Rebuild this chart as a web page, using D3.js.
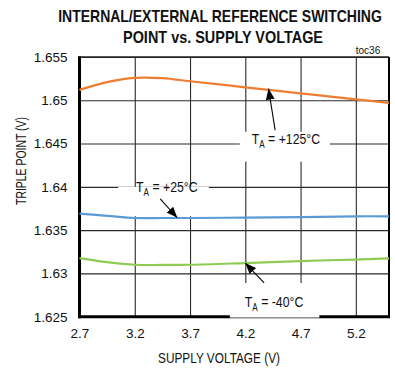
<!DOCTYPE html>
<html><head><meta charset="utf-8">
<script src="https://cdn.jsdelivr.net/npm/d3@7"></script>
<style>
body{margin:0;background:#fff;}
svg{display:block;}
text{font-family:'Liberation Sans Narrow','Arial Narrow','Liberation Sans',Arial,sans-serif;fill:#111;}
</style></head>
<body><svg id="c" width="395" height="371"></svg>
<script>
const voltages = [2.7, 2.95, 3.2, 3.45, 3.7, 4.2, 4.7, 5.2, 5.5];
const t125 = [1.6512, 1.6521, 1.65258, 1.65255, 1.6522, 1.6515, 1.6508, 1.6501, 1.6497];
const t25  = [1.6369, 1.63665, 1.6364, 1.6364, 1.6364, 1.63645, 1.6365, 1.6366, 1.6366];
const tm40 = [1.63177, 1.6313, 1.6310, 1.63098, 1.6310, 1.6312, 1.63143, 1.6316, 1.63173];
const xTicks = [2.7, 3.2, 3.7, 4.2, 4.7, 5.2];
const yTicks = [1.625, 1.63, 1.635, 1.64, 1.645, 1.65, 1.655];
const yTickLabels = ["1.625", "1.63", "1.635", "1.64", "1.645", "1.65", "1.655"];
const seriesNames = ["+125°C", "+25°C", "-40°C"];
const seriesColors = ["#EE7D31", "#5B9BD5", "#8FCB52"];

const svg = d3.select("#c");
const L = 79.5, R = 389, T = 57, B = 316.7;
const x = d3.scaleLinear().domain([2.7, 5.5]).range([L, R]);
const y = d3.scaleLinear().domain([1.625, 1.655]).range([B, T]);

// text squeezed horizontally to a target width (condensed look)
function fitText(cx, cy, str, size, width, bold, rotate) {
  const g = svg.append("g");
  const t = g.append("text").attr("text-anchor", "middle").attr("font-size", size)
    .attr("font-weight", bold ? "bold" : null).text(str);
  const w = t.node().getComputedTextLength();
  const s = width / w;
  g.attr("transform", `translate(${cx},${cy})` + (rotate ? " rotate(-90)" : "") + ` scale(${s},1)`);
  return g;
}

// title
fitText(220, 22, "INTERNAL/EXTERNAL REFERENCE SWITCHING", 16.5, 324, true);
fitText(223, 43, "POINT vs.  SUPPLY VOLTAGE", 16.5, 200, true);
svg.append("text").attr("x", 368).attr("y", 54).attr("text-anchor", "middle")
  .attr("font-size", 10).text("toc36");

// grid via axes
const gx = svg.append("g").attr("transform", `translate(0,${B})`)
  .call(d3.axisBottom(x).tickValues(xTicks).tickSize(-(B - T)).tickSizeOuter(0).tickPadding(12).tickFormat(d3.format(".1f")));
const gy = svg.append("g").attr("transform", `translate(${L},0)`)
  .call(d3.axisLeft(y).tickValues(yTicks).tickSize(-(R - L)).tickSizeOuter(0).tickPadding(12)
    .tickFormat((d, i) => yTickLabels[i]));
[gx, gy].forEach(g => {
  g.select(".domain").remove();
  g.selectAll("line").attr("stroke", "#2a2a2a").attr("stroke-width", 1.1);
  g.selectAll("text").attr("font-size", 13.5).attr("fill", "#111")
    .style("font-family", "'Liberation Sans Narrow','Arial Narrow','Liberation Sans',Arial,sans-serif");
});

// frame
svg.append("line").attr("x1", L).attr("x2", R).attr("y1", T).attr("y2", T).attr("stroke", "#222").attr("stroke-width", 1.5);
svg.append("line").attr("x1", R).attr("x2", R).attr("y1", T).attr("y2", B).attr("stroke", "#000").attr("stroke-width", 2);
svg.append("line").attr("x1", L).attr("x2", L).attr("y1", T - 0.7).attr("y2", B + 1.5).attr("stroke", "#000").attr("stroke-width", 3);
svg.append("line").attr("x1", L - 1.5).attr("x2", R + 1).attr("y1", B).attr("y2", B).attr("stroke", "#000").attr("stroke-width", 3);

// axis titles
fitText(219, 363, "SUPPLY VOLTAGE (V)", 15, 122, false);
fitText(26, 161, "TRIPLE POINT (V)", 14.5, 88, false, true);

// annotations (data coordinates)
const notes = [
  {name: seriesNames[0], cx: 4.567, cy: 1.6449, box: [4.15, 4.965, 1.64637, 1.64291], from: [4.47, 1.64654], to: [4.41, 1.65135]},
  {name: seriesNames[1], cx: 3.49, cy: 1.63935, box: [3.05, 3.87, 1.64, 1.63661], from: [3.43, 1.6386], to: [3.585, 1.63643]},
  {name: seriesNames[2], cx: 4.46, cy: 1.62612, box: [4.06, 4.87, 1.6289, 1.6249], from: [4.37, 1.6289], to: [4.2, 1.63119]}
];
notes.forEach(n => {
  svg.append("rect").attr("x", x(n.box[0])).attr("y", y(n.box[2]))
    .attr("width", x(n.box[1]) - x(n.box[0])).attr("height", y(n.box[3]) - y(n.box[2]))
    .attr("fill", "#fff");
});

// curves
const line = d3.line().curve(d3.curveCatmullRom.alpha(0.5)).x((d, i) => x(voltages[i])).y(d => y(d));
[t125, t25, tm40].forEach((s, k) => {
  svg.append("path").attr("d", line(s)).attr("fill", "none")
    .attr("stroke", seriesColors[k]).attr("stroke-width", 2.2);
});

// labels and arrows
svg.append("defs").append("marker").attr("id", "ah").attr("viewBox", "0 0 10 10")
  .attr("refX", 10).attr("refY", 5).attr("markerWidth", 11).attr("markerHeight", 11)
  .attr("markerUnits", "userSpaceOnUse").attr("orient", "auto")
  .append("path").attr("d", "M0,1 L10,5 L0,9 Z").attr("fill", "#000");
notes.forEach(n => {
  const g = svg.append("g").attr("transform", `translate(${x(n.cx)},${y(n.cy)}) scale(0.82,1)`);
  const t = g.append("text").attr("x", 0).attr("y", 0).attr("text-anchor", "middle")
    .attr("font-size", 15);
  t.append("tspan").text("T");
  t.append("tspan").attr("font-size", 10).attr("dy", 4).text("A");
  t.append("tspan").attr("dy", -4).text(" = " + n.name);
  svg.append("line").attr("x1", x(n.from[0])).attr("y1", y(n.from[1]))
    .attr("x2", x(n.to[0])).attr("y2", y(n.to[1])).attr("stroke", "#000").attr("stroke-width", 1.1)
    .attr("marker-end", "url(#ah)");
});
</script></body></html>
